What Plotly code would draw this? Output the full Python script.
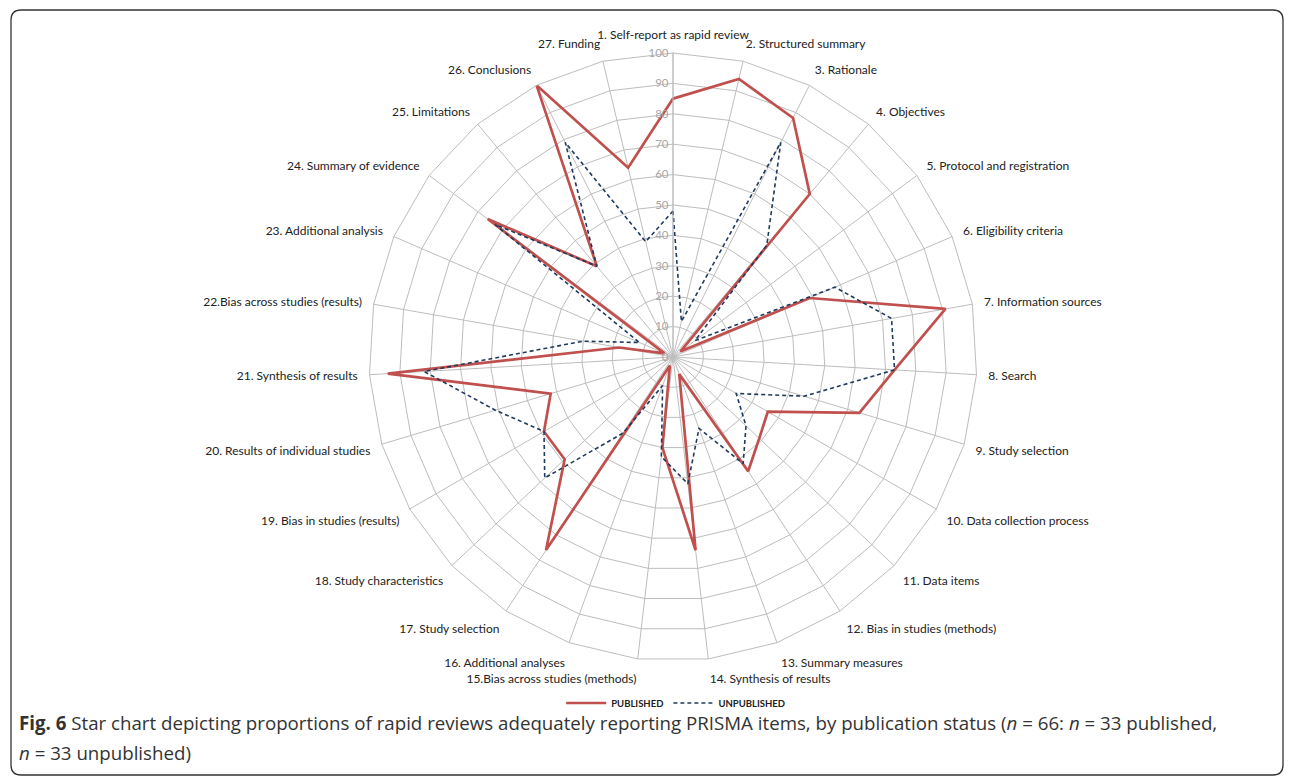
import plotly.graph_objects as go

categories = [
    "1. Self-report as rapid review", "2. Structured summary", "3. Rationale",
    "4. Objectives", "5. Protocol and registration", "6. Eligibility criteria",
    "7. Information sources", "8. Search", "9. Study selection",
    "10. Data collection process", "11. Data items", "12. Bias in studies (methods)",
    "13. Summary measures", "14. Synthesis of results", "15.Bias across studies (methods)",
    "16. Additional analyses", "17. Study selection", "18. Study characteristics",
    "19. Bias in studies (results)", "20. Results of individual studies",
    "21. Synthesis of results", "22.Bias across studies (results)",
    "23. Additional analysis", "24. Summary of evidence", "25. Limitations",
    "26. Conclusions", "27. Funding",
]

published = [85, 94, 88, 70, 3, 49, 91, 73, 64, 36, 39, 45, 6, 64, 30, 3,
             76, 49, 49, 42, 94, 18, 3, 76, 39, 100, 64]
unpublished = [48, 12, 79, 48, 9, 58, 73, 73, 45, 24, 33, 42, 25, 42, 33, 10,
               30, 58, 49, 61, 82, 30, 12, 73, 39, 79, 39]

radial_ticks = list(range(0, 101, 10))

W, H = 1292, 780
cx, cy, R = 673, 357, 304

fig = go.Figure()
fig.add_trace(go.Scatterpolar(
    r=published + [published[0]], theta=categories + [categories[0]],
    mode="lines", name="<b>PUBLISHED</b>",
    line=dict(color="#C0504D", width=2.7),
))
fig.add_trace(go.Scatterpolar(
    r=unpublished + [unpublished[0]], theta=categories + [categories[0]],
    mode="lines", name="<b>UNPUBLISHED</b>",
    line=dict(color="#1F3A5F", width=1.6, dash="4px,3px"),
))

grid = "#BDBDBD"
fig.update_layout(
    width=W, height=H,
    margin=dict(l=0, r=0, t=0, b=0),
    paper_bgcolor="white", plot_bgcolor="white",
    font=dict(family="Lato, 'Open Sans', sans-serif", color="#222"),
    polar=dict(
        domain=dict(x=[(cx - R) / W, (cx + R) / W],
                    y=[(H - cy - R) / H, (H - cy + R) / H]),
        bgcolor="white",
        gridshape="linear",
        angularaxis=dict(
            rotation=90, direction="clockwise",
            categoryorder="array", categoryarray=categories,
            showgrid=True, gridcolor=grid, gridwidth=1,
            showline=True, linecolor=grid, linewidth=1,
            ticks="outside", ticklen=9, tickcolor="rgba(0,0,0,0)",
            tickfont=dict(size=12, color="#222"),
        ),
        radialaxis=dict(
            range=[0, 100], tickvals=radial_ticks,
            ticktext=[str(v) for v in radial_ticks],
            angle=90, tickangle=90, side="counterclockwise",
            showgrid=True, gridcolor=grid, gridwidth=1,
            showline=True, linecolor=grid, linewidth=1,
            ticks="", tickfont=dict(size=11.5, color="#A6A6A6"),
        ),
    ),
    legend=dict(
        orientation="h", x=0.523, xanchor="center", y=(H - 703) / H, yanchor="middle",
        font=dict(size=9.5, color="#222"), bgcolor="rgba(0,0,0,0)",
        itemwidth=40, tracegroupgap=0,
    ),
)

# rounded frame
x0, x1 = 11 / W, 1283 / W
y0, y1 = 1 - 775 / H, 1 - 10 / H
rx, ry = 10 / W, 10 / H
path = (f"M {x0+rx},{y1} L {x1-rx},{y1} Q {x1},{y1} {x1},{y1-ry} "
        f"L {x1},{y0+ry} Q {x1},{y0} {x1-rx},{y0} L {x0+rx},{y0} "
        f"Q {x0},{y0} {x0},{y0+ry} L {x0},{y1-ry} Q {x0},{y1} {x0+rx},{y1} Z")
fig.add_shape(type="path", path=path, xref="paper", yref="paper",
              line=dict(color="#333", width=1.3), layer="below")

cap_font = dict(family="'Open Sans', sans-serif", size=18.7, color="#333")
fig.add_annotation(
    x=17 / W, y=1 - 722 / H, xref="paper", yref="paper",
    xanchor="left", yanchor="middle", align="left", showarrow=False,
    text=("<b>Fig. 6</b> Star chart depicting proportions of rapid reviews adequately reporting "
          "PRISMA items, by publication status (<i>n</i> = 66: <i>n</i> = 33 published,"),
    font=cap_font,
)
fig.add_annotation(
    x=17 / W, y=1 - 752 / H, xref="paper", yref="paper",
    xanchor="left", yanchor="middle", align="left", showarrow=False,
    text="<i>n</i> = 33 unpublished)",
    font=cap_font,
)

fig.write_html("out.html", config={"displayModeBar": False},
               post_script="document.body.style.margin='0';")
